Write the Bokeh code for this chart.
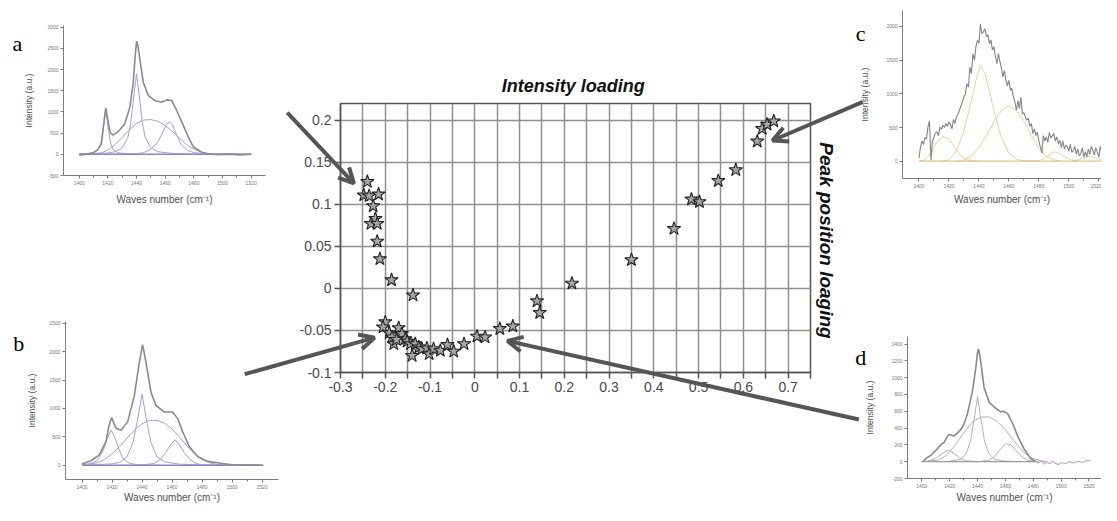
from math import pi
from bokeh.plotting import figure
from bokeh.models import Range1d, FixedTicker, Label, Arrow, OpenHead
from bokeh.embed import file_html
from bokeh.resources import INLINE

W, H = 1101, 505
FONT = "Liberation Sans"
SERIF = "Liberation Serif"

# ---------------- main scatter data ----------------
INTENSITY_LOADING = [-0.240, -0.248, -0.236, -0.215, -0.227, -0.222, -0.232, -0.218, -0.218, -0.212,
                     -0.186, -0.138,
                     -0.200, -0.205, -0.191, -0.181, -0.185, -0.170, -0.163, -0.155, -0.175, -0.151,
                     -0.144, -0.140, -0.133, -0.125, -0.118, -0.107, -0.102, -0.092, -0.077, -0.061,
                     -0.047, -0.024, 0.005, 0.023, 0.056, 0.085,
                     0.139, 0.145,
                     0.217, 0.350, 0.445, 0.484, 0.502, 0.544, 0.583, 0.631, 0.642, 0.653, 0.668]
PEAK_POSITION_LOADING = [0.127, 0.111, 0.110, 0.112, 0.098, 0.083, 0.077, 0.077, 0.056, 0.035,
                         0.010, -0.008,
                         -0.040, -0.046, -0.053, -0.066, -0.058, -0.047, -0.054, -0.060, -0.061, -0.063,
                         -0.066, -0.080, -0.066, -0.070, -0.072, -0.071, -0.078, -0.072, -0.074, -0.067,
                         -0.075, -0.066, -0.057, -0.058, -0.048, -0.045,
                         -0.015, -0.029,
                         0.006, 0.034, 0.071, 0.106, 0.103, 0.128, 0.141, 0.175, 0.190, 0.195, 0.199]

X_TICKS = [-0.3, -0.2, -0.1, 0.0, 0.1, 0.2, 0.3, 0.4, 0.5, 0.6, 0.7]
X_LABELS = ["-0.3", "-0.2", "-0.1", "0", "0.1", "0.2", "0.3", "0.4", "0.5", "0.6", "0.7"]
X_MINOR = [-0.25, -0.15, -0.05, 0.05, 0.15, 0.25, 0.35, 0.45, 0.55, 0.65, 0.75]
Y_TICKS = [-0.1, -0.05, 0.0, 0.05, 0.1, 0.15, 0.2]
Y_LABELS = ["-0.1", "-0.05", "0", "0.05", "0.1", "0.15", "0.2"]

# ---------------- inset spectra data ----------------
WAVE_TICKS = [1400, 1420, 1440, 1460, 1480, 1500, 1520]
WAVE_MINOR = [1410, 1430, 1450, 1470, 1490, 1510]

# (a)
A_TOTAL_X = [1400, 1405, 1410, 1413, 1415.5, 1417, 1418.5, 1420, 1421.5, 1423.5, 1427, 1431.8, 1435.3,
             1437.6, 1439, 1440, 1441, 1442.3, 1444.7, 1448.2, 1452.8, 1457.5, 1461, 1464.6, 1468,
             1472.6, 1476.1, 1479.6, 1485.6, 1490, 1497, 1505, 1512, 1520]
A_TOTAL_Y = [-20, 0, 40, 110, 260, 700, 1098, 800, 520, 451, 528, 724, 1112, 1658, 2300, 2670, 2550,
             2243, 1696, 1385, 1268, 1229, 1285, 1268, 1035, 684, 411, 178, 47, 10, -10, 5, -15, 0]
A_C1_X = [1400, 1410, 1413, 1415, 1416.5, 1418.5, 1420.5, 1422, 1424, 1427, 1432, 1445, 1520]
A_C1_Y = [5, 30, 100, 250, 550, 1040, 550, 250, 100, 40, 15, 5, 0]
A_C2_X = [1400, 1420, 1425, 1430, 1434, 1436, 1438, 1440, 1442, 1444, 1446, 1450, 1455, 1465, 1480, 1520]
A_C2_Y = [5, 30, 60, 150, 400, 750, 1350, 1900, 1350, 750, 400, 150, 60, 20, 8, 3]
A_C3_X = [1400, 1410, 1415, 1420, 1425, 1430, 1435, 1440, 1445, 1450, 1455, 1460, 1465, 1470, 1475,
          1480, 1485, 1490, 1500, 1520]
A_C3_Y = [5, 15, 30, 100, 230, 400, 580, 730, 810, 820, 780, 680, 540, 380, 230, 120, 50, 15, 5, 0]
A_C4_X = [1400, 1440, 1445, 1450, 1455, 1458, 1461, 1463, 1465, 1468, 1471, 1475, 1480, 1490, 1520]
A_C4_Y = [0, 15, 40, 120, 300, 500, 720, 760, 700, 450, 240, 100, 40, 10, 0]
A_BASE_X = [1400, 1520]
A_BASE_Y = [0, 0]
A_YTICKS = [-500, 0, 500, 1000, 1500, 2000, 2500, 3000]
A_YLABELS = ["-500", "0", "500", "1000", "1500", "2000", "2500", "3000"]

# (b)
B_TOTAL_X = [1400, 1406, 1411.5, 1416, 1418, 1419.8, 1421.5, 1423, 1426, 1430.4, 1434.9, 1438.2, 1440.4,
             1442.7, 1446, 1449.3, 1454.9, 1460.4, 1463.8, 1467.1, 1471.5, 1477.1, 1483.8, 1492.7, 1500,
             1510, 1521]
B_TOTAL_Y = [22, 80, 184, 417, 700, 840, 720, 647, 618, 764, 1226, 1805, 2123, 1805, 1285, 1052, 937, 937,
             821, 590, 330, 156, 69, 35, 10, 5, 0]
B_C1_X = [1400, 1405, 1410, 1414, 1417, 1419.5, 1422, 1425, 1428, 1432, 1438, 1460, 1520]
B_C1_Y = [5, 20, 80, 250, 480, 620, 480, 250, 100, 30, 10, 3, 0]
B_C2_X = [1400, 1420, 1425, 1430, 1434, 1437, 1440, 1443, 1446, 1450, 1455, 1465, 1480, 1520]
B_C2_Y = [3, 25, 50, 150, 400, 800, 1250, 800, 400, 150, 60, 20, 8, 0]
B_C3_X = [1400, 1410, 1415, 1420, 1425, 1430, 1435, 1440, 1445, 1450, 1455, 1460, 1465, 1470, 1475,
          1480, 1485, 1490, 1500, 1520]
B_C3_Y = [10, 40, 100, 200, 330, 480, 620, 730, 790, 790, 740, 640, 500, 340, 200, 100, 45, 15, 5, 0]
B_C4_X = [1400, 1440, 1448, 1452, 1456, 1459, 1462, 1465, 1468, 1472, 1476, 1480, 1490, 1520]
B_C4_Y = [0, 8, 30, 100, 230, 360, 450, 360, 230, 100, 30, 10, 3, 0]
B_BASE_X = [1400, 1520]
B_BASE_Y = [0, 0]
B_YTICKS = [0, 500, 1000, 1500, 2000, 2500]
B_YLABELS = ["0", "500", "1000", "1500", "2000", "2500"]

# (c) noisy spectrum, one reading per cm-1 from 1400 to 1527
C_TOTAL_X = list(range(1400, 1528))
C_TOTAL_Y = [50, 212, 300, 250, 350, 330, 509, 600, 15, 300, 360, 420, 435, 380, 509, 470, 533, 500,
             558, 520, 583, 540, 480, 620, 560, 657, 700, 756, 820, 880, 953, 1000, 1151, 1100, 1398,
             1300, 1596, 1500, 1700, 1793, 1750, 2040, 1892, 1920, 1966, 1850, 1880, 1744, 1800, 1650,
             1700, 1560, 1447, 1600, 1480, 1380, 1250, 1350, 1200, 1120, 1200, 1052, 1080, 950, 880,
             756, 900, 780, 953, 700, 720, 650, 608, 640, 520, 560, 410, 480, 380, 430, 300, 212, 120,
             380, 300, 360, 280, 430, 340, 380, 410, 300, 360, 260, 311, 200, 300, 180, 240, 212, 150,
             250, 130, 163, 220, 100, 180, 80, 114, 200, 60, 140, 64, 180, 100, 220, 163, 90, 200, 138,
             60, 220, 130, 190, 90, 212, 114, 286]
C_C1_X = [1400, 1404, 1408, 1412, 1416, 1420, 1424, 1428, 1432, 1440]
C_C1_Y = [0, 20, 120, 280, 370, 330, 200, 80, 20, 0]
C_C2_X = [1415, 1420, 1425, 1430, 1435, 1438, 1441, 1444, 1447, 1450, 1455, 1460, 1465, 1470, 1480]
C_C2_Y = [0, 20, 150, 450, 900, 1200, 1430, 1300, 1050, 750, 350, 120, 30, 5, 0]
C_C3_X = [1425, 1430, 1435, 1440, 1445, 1450, 1455, 1460, 1465, 1470, 1475, 1480, 1485, 1490, 1495]
C_C3_Y = [0, 20, 80, 200, 380, 580, 750, 820, 760, 600, 380, 190, 70, 20, 0]
C_C4_X = [1478, 1482, 1486, 1490, 1494, 1498, 1502, 1506]
C_C4_Y = [0, 20, 80, 140, 110, 50, 15, 0]
C_C5_X = [1502, 1506, 1510, 1514, 1518, 1522, 1526]
C_C5_Y = [0, 20, 50, 70, 50, 20, 0]
C_BASE_X = [1400, 1527]
C_BASE_Y = [0, 0]
C_YTICKS = [0, 500, 1000, 1500, 2000]
C_YLABELS = ["0", "500", "1000", "1500", "2000"]

# (d)
D_TOTAL_X = [1400.7, 1403, 1406.5, 1409, 1411.2, 1413.5, 1416, 1418, 1419.6, 1421.5, 1423.2, 1425.5,
             1428, 1430.5, 1432.8, 1434.5, 1436.4, 1438.7, 1440, 1440.7, 1441.5, 1442.3, 1444.7, 1448.3,
             1451.9, 1456.7, 1458.5, 1461.5, 1465.1, 1468.7, 1473.4, 1478.2, 1481.8]
D_TOTAL_Y = [0, 40, 77, 120, 153, 200, 230, 290, 325, 315, 307, 340, 383, 460, 575, 700, 842, 1111, 1300,
             1341, 1280, 1187, 881, 709, 651, 594, 600, 575, 460, 307, 153, 38, 0]
D_TAIL_X = [1481.8, 1484, 1486, 1488, 1490, 1492, 1494, 1496, 1498, 1500, 1503, 1506, 1509, 1512, 1515,
            1518, 1521]
D_TAIL_Y = [0, -15, 10, -30, -5, -25, 10, -20, -35, -10, -25, 0, -15, 5, -10, 10, 15]
D_C1_X = [1400, 1405, 1410, 1415, 1419, 1423, 1427, 1432, 1440]
D_C1_Y = [0, 10, 40, 100, 140, 100, 45, 10, 0]
D_C2_X = [1420, 1428, 1432, 1435, 1438, 1440, 1442, 1445, 1448, 1452, 1458, 1470]
D_C2_Y = [5, 30, 100, 250, 550, 780, 550, 250, 100, 30, 10, 0]
D_C3_X = [1405, 1412, 1418, 1424, 1430, 1436, 1442, 1448, 1454, 1460, 1466, 1472, 1478, 1484, 1490]
D_C3_Y = [5, 20, 80, 200, 340, 470, 530, 535, 480, 380, 250, 130, 50, 15, 0]
D_C4_X = [1440, 1448, 1452, 1456, 1460, 1464, 1468, 1472, 1476, 1484]
D_C4_Y = [0, 15, 60, 140, 215, 200, 130, 55, 15, 0]
D_BASE_X = [1400, 1482]
D_BASE_Y = [0, 0]
D_YTICKS = [-200, 0, 200, 400, 600, 800, 1000, 1200, 1400]
D_YLABELS = ["-200", "0", "200", "400", "600", "800", "1000", "1200", "1400"]

# ---------------- main figure ----------------
FL, FR, FT, FB = 340, 810, 103, 372          # frame edges on the page (px)
XR = (-0.3, 0.75)
YR = (-0.1, 0.22)

p = figure(width=W, height=H, x_range=Range1d(*XR), y_range=Range1d(*YR),
           output_backend="svg", toolbar_location=None,
           min_border_left=FL, min_border_right=W - FR, min_border_top=FT, min_border_bottom=H - FB,
           background_fill_color="white", border_fill_color=None,
           outline_line_color="#555555", outline_line_width=1.5)

xt = FixedTicker(ticks=X_TICKS, minor_ticks=X_MINOR)
yt = FixedTicker(ticks=Y_TICKS)
p.xaxis.ticker = xt
p.yaxis.ticker = yt
p.xgrid.ticker = xt
p.ygrid.ticker = yt
p.xaxis.major_label_overrides = {t: l for t, l in zip(X_TICKS, X_LABELS)}
p.yaxis.major_label_overrides = {t: l for t, l in zip(Y_TICKS, Y_LABELS)}
for g in (p.xgrid[0], p.ygrid[0]):
    g.grid_line_color = "#8f8f8f"
    g.grid_line_width = 1.5
p.xgrid.minor_grid_line_color = "#8f8f8f"
p.xgrid.minor_grid_line_width = 1.5
for ax in (p.xaxis[0], p.yaxis[0]):
    ax.axis_line_color = "#555555"
    ax.axis_line_width = 1.5
    ax.major_tick_line_color = "#555555"
    ax.major_tick_line_width = 1.5
    ax.major_tick_in = 0
    ax.major_tick_out = 6
    ax.minor_tick_line_color = "#555555"
    ax.minor_tick_line_width = 1.5
    ax.minor_tick_in = 0
    ax.minor_tick_out = 6
    ax.major_label_text_font = FONT
    ax.major_label_text_font_size = "14px"
    ax.major_label_text_color = "#4a4a4a"
    ax.major_label_standoff = 3

p.scatter(INTENSITY_LOADING, PEAK_POSITION_LOADING, marker="star", size=14,
          fill_color="#a6a6a6", line_color="#222222", line_width=1.1)


# ---------------- insets ----------------
def inset(left, top, fw, fh, xr, yr, yticks, ylabels, ystand, xstand):
    q = figure(width=W, height=H, x_range=Range1d(*xr), y_range=Range1d(*yr),
               output_backend="svg", toolbar_location=None,
               min_border_left=left, min_border_top=top,
               min_border_right=W - left - fw, min_border_bottom=H - top - fh,
               background_fill_color=None, border_fill_color=None, outline_line_color=None)
    q.xgrid.visible = False
    q.ygrid.visible = False
    q.xaxis.ticker = FixedTicker(ticks=WAVE_TICKS, minor_ticks=WAVE_MINOR)
    q.yaxis.ticker = FixedTicker(ticks=yticks)
    q.yaxis.major_label_overrides = {t: l for t, l in zip(yticks, ylabels)}
    for ax in (q.xaxis[0], q.yaxis[0]):
        ax.axis_line_color = "#7d7d7d"
        ax.major_tick_line_color = "#7d7d7d"
        ax.minor_tick_line_color = "#7d7d7d"
        ax.major_tick_in = 0
        ax.major_tick_out = 3
        ax.minor_tick_in = 0
        ax.minor_tick_out = 2
        ax.major_label_text_font = FONT
        ax.major_label_text_font_size = "5px"
        ax.major_label_text_color = "#777777"
        ax.major_label_standoff = 2
        ax.axis_label_text_font = FONT
        ax.axis_label_text_font_style = "normal"
        ax.axis_label_text_color = "#505050"
    q.xaxis.axis_label = "Waves number (cm\u207b\u00b9)"
    q.xaxis.axis_label_text_font_size = "10px"
    q.xaxis.axis_label_standoff = xstand
    q.yaxis.axis_label = "Intensity (a.u.)"
    q.yaxis.axis_label_text_font_size = "8.5px"
    q.yaxis.axis_label_standoff = ystand
    q.margin = (-H, 0, 0, 0)
    return q


PURPLE = "#a59ed4"
GRAY = "#8e8890"

pa = inset(63, 25, 202, 150, (1389, 1530), (-500, 3040), A_YTICKS, A_YLABELS, 10, 6)
for xs, ys in [(A_C1_X, A_C1_Y), (A_C2_X, A_C2_Y), (A_C3_X, A_C3_Y), (A_C4_X, A_C4_Y)]:
    pa.line(xs, ys, line_color=PURPLE, line_width=1)
pa.line(A_BASE_X, A_BASE_Y, line_color="#8a84c8", line_width=1.2)
pa.line(A_TOTAL_X, A_TOTAL_Y, line_color=GRAY, line_width=1.6)

pb = inset(65, 321, 213, 161, (1389, 1531), (-250, 2530), B_YTICKS, B_YLABELS, 9, 0)
for xs, ys in [(B_C1_X, B_C1_Y), (B_C2_X, B_C2_Y), (B_C3_X, B_C3_Y), (B_C4_X, B_C4_Y)]:
    pb.line(xs, ys, line_color=PURPLE, line_width=1)
pb.line(B_BASE_X, B_BASE_Y, line_color="#8a84c8", line_width=1.2)
pb.line(B_TOTAL_X, B_TOTAL_Y, line_color=GRAY, line_width=1.6)

PEACH = "#e9cf9f"
pc = inset(902, 10, W - 902, 168, (1389, 1521.8), (-257, 2237), C_YTICKS, C_YLABELS, 13, 3)
for xs, ys in [(C_C1_X, C_C1_Y), (C_C2_X, C_C2_Y), (C_C3_X, C_C3_Y), (C_C4_X, C_C4_Y), (C_C5_X, C_C5_Y)]:
    pc.line(xs, ys, line_color=PEACH, line_width=1)
pc.line(C_BASE_X, C_BASE_Y, line_color="#e0c08a", line_width=1.2)
pc.line(C_TOTAL_X, C_TOTAL_Y, line_color="#858585", line_width=1.1)

pd = inset(907, 336, W - 907, 142, (1389.7, 1529), (-200, 1490), D_YTICKS, D_YLABELS, 13, 1)
for xs, ys in [(D_C1_X, D_C1_Y), (D_C2_X, D_C2_Y), (D_C3_X, D_C3_Y), (D_C4_X, D_C4_Y)]:
    pd.line(xs, ys, line_color="#b2b2b2", line_width=1)
pd.line(D_BASE_X, D_BASE_Y, line_color="#9a9a9a", line_width=1.2)
pd.line(D_TAIL_X, D_TAIL_Y, line_color="#c6a6cc", line_width=1.2)
pd.line(D_TOTAL_X, D_TOTAL_Y, line_color="#8a8a8a", line_width=1.6)

# ---------------- overlay: whole page in the main chart's data units ----------------
sx = (FR - FL) / (XR[1] - XR[0])
sy = (FB - FT) / (YR[1] - YR[0])
ov = figure(width=W, height=H, output_backend="svg", toolbar_location=None,
            x_range=Range1d(XR[0] - FL / sx, XR[0] + (W - FL) / sx),
            y_range=Range1d(YR[0] - (H - FB) / sy, YR[1] + FT / sy),
            x_axis_type=None, y_axis_type=None,
            min_border=0, min_border_left=0, min_border_right=0, min_border_top=0, min_border_bottom=0,
            background_fill_color=None, border_fill_color=None, outline_line_color=None)
ov.xgrid.visible = False
ov.ygrid.visible = False
ov.margin = (-H, 0, 0, 0)

ov.add_layout(Label(x=0.22, y=0.2414, text="Intensity loading", text_font=FONT,
                    text_font_style="bold italic", text_font_size="18px", text_color="#111111",
                    text_align="center", text_baseline="middle"))
ov.add_layout(Label(x=0.786, y=0.057, angle=-pi / 2, text="Peak position loaging",
                    text_font=FONT, text_font_style="bold italic", text_font_size="19px",
                    text_color="#111111", text_align="center", text_baseline="middle"))

LETTERS = [("a", -1.022, 0.2914), ("b", -1.019, -0.0655), ("c", 0.862, 0.3033), ("d", 0.862, -0.0822)]
for t, lx, ly in LETTERS:
    ov.add_layout(Label(x=lx, y=ly, text=t, text_font=SERIF, text_font_size="22px",
                        text_color="#000000", text_align="center", text_baseline="middle"))

ARROWS = [(-0.419, 0.209, -0.270, 0.125),
          (-0.514, -0.102, -0.224, -0.0586),
          (0.867, 0.222, 0.665, 0.176),
          (0.858, -0.156, 0.073, -0.0624)]
for xs, ys, xe, ye in ARROWS:
    ov.add_layout(Arrow(end=OpenHead(size=15, line_width=4, line_color="#555555"),
                        x_start=xs, y_start=ys, x_end=xe, y_end=ye,
                        line_width=4, line_color="#555555"))

# independent roots (no frame alignment), stacked on top of each other by the negative margins
open("out.html", "w").write(file_html([p, pa, pb, pc, pd, ov], INLINE))
